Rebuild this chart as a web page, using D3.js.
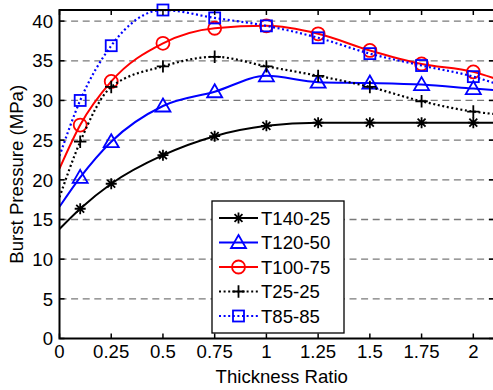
<!DOCTYPE html>
<html>
<head>
<meta charset="utf-8">
<script src="https://cdn.jsdelivr.net/npm/d3@7"></script>
<style>
  html, body { margin: 0; padding: 0; background: #fff; }
  svg { display: block; font-family: "Liberation Sans", Arial, sans-serif; }
</style>
</head>
<body>
<svg id="chart" width="493" height="390"></svg>
<script>
// Thickness ratio sample points (curve runs from 0 to 2.1, markers at the measured ratios)
const ratios = [0, 0.1, 0.25, 0.5, 0.75, 1, 1.25, 1.5, 1.75, 2, 2.1];
const markedRatios = [0.1, 0.25, 0.5, 0.75, 1, 1.25, 1.5, 1.75, 2];

// Burst pressure (MPa) for each configuration
const t140_25 = [13.8, 16.35, 19.5, 23.1, 25.5, 26.8, 27.2, 27.2, 27.2, 27.2, 27.2];
const t120_50 = [16.6, 20.3, 24.8, 29.3, 31.1, 33.1, 32.3, 32.2, 32.0, 31.5, 31.3];
const t100_75 = [21.4, 26.9, 32.4, 37.2, 39.1, 39.4, 38.4, 36.3, 34.6, 33.6, 32.8];
const t25_25  = [17.8, 24.8, 31.7, 34.3, 35.5, 34.3, 33.1, 31.7, 29.9, 28.6, 28.3];
const t85_85  = [23.0, 30.0, 36.9, 41.4, 40.4, 39.4, 37.9, 35.9, 34.4, 33.0, 32.2];

const seriesNames = ["T140-25", "T120-50", "T100-75", "T25-25", "T85-85"];
const seriesValues = [t140_25, t120_50, t100_75, t25_25, t85_85];

const xTicks = [0, 0.25, 0.5, 0.75, 1, 1.25, 1.5, 1.75, 2];
const xTickLabels = ["0", "0.25", "0.5", "0.75", "1", "1.25", "1.5", "1.75", "2"];
const yTicks = [0, 5, 10, 15, 20, 25, 30, 35, 40];

const styles = [
  { color: "#000000", dash: null,      marker: "asterisk" },
  { color: "#0000ff", dash: null,      marker: "triangle" },
  { color: "#ff0000", dash: null,      marker: "circle" },
  { color: "#000000", dash: "2,2.6",   marker: "plus" },
  { color: "#0000ff", dash: "2,2.6",   marker: "square" }
];

const svg = d3.select("#chart");
const plotL = 59.5, plotR = 494, plotT = 10, plotB = 338.5;
const fontSize = 18.6;

const x = d3.scaleLinear().domain([0, 2.1]).range([plotL, plotR]);
const y = d3.scaleLinear().domain([0, 41.4]).range([plotB, plotT]);

// dashed horizontal grid
svg.append("g")
  .selectAll("line")
  .data(yTicks.filter(v => v > 0))
  .join("line")
  .attr("x1", plotL).attr("x2", plotR)
  .attr("y1", d => y(d)).attr("y2", d => y(d))
  .attr("stroke", "#7a7a7a")
  .attr("stroke-width", 1.3)
  .attr("stroke-dasharray", "7,4.6");

// clip for the curves
svg.append("clipPath").attr("id", "plotClip")
  .append("rect").attr("x", plotL).attr("y", plotT - 8).attr("width", plotR - plotL).attr("height", plotB - plotT + 8);

const line = d3.line()
  .x((d, i) => x(ratios[i]))
  .y(d => y(d))
  .curve(d3.curveMonotoneX);

function drawMarker(g, type, color) {
  if (type === "asterisk") {
    const r = 5.5;
    g.append("path")
      .attr("d", `M0,${-r}V${r}M${-r},0H${r}M${-r*0.72},${-r*0.72}L${r*0.72},${r*0.72}M${-r*0.72},${r*0.72}L${r*0.72},${-r*0.72}`)
      .attr("stroke", color).attr("stroke-width", 1.8).attr("fill", "none");
  } else if (type === "triangle") {
    g.append("path")
      .attr("d", "M0,-7.5L7.5,5.5L-7.5,5.5Z")
      .attr("stroke", color).attr("stroke-width", 1.8).attr("fill", "none");
  } else if (type === "circle") {
    g.append("circle").attr("r", 6.5)
      .attr("stroke", color).attr("stroke-width", 1.8).attr("fill", "none");
  } else if (type === "plus") {
    const r = 6.2;
    g.append("path")
      .attr("d", `M0,${-r}V${r}M${-r},0H${r}`)
      .attr("stroke", color).attr("stroke-width", 1.8).attr("fill", "none");
  } else if (type === "square") {
    g.append("rect").attr("x", -5.5).attr("y", -5.5).attr("width", 11).attr("height", 11)
      .attr("stroke", color).attr("stroke-width", 1.8).attr("fill", "none");
  }
}

const plot = svg.append("g");
seriesValues.forEach((vals, si) => {
  const st = styles[si];
  plot.append("path")
    .attr("d", line(vals))
    .attr("fill", "none")
    .attr("stroke", st.color)
    .attr("stroke-width", st.dash ? 2.2 : 2)
    .attr("stroke-dasharray", st.dash)
    .attr("clip-path", "url(#plotClip)");
  ratios.forEach((r, i) => {
    if (!markedRatios.includes(r)) return;
    const g = plot.append("g").attr("transform", `translate(${x(r)},${y(vals[i])})`);
    drawMarker(g, st.marker, st.color);
  });
});

// axes box with inward ticks
const axes = svg.append("g");
axes.append("path")
  .attr("d", `M${plotL},${plotT}H${plotR}V${plotB}H${plotL}Z`)
  .attr("fill", "none").attr("stroke", "#000").attr("stroke-width", 2);
const tickLen = 5;
xTicks.forEach(t => {
  axes.append("line").attr("x1", x(t)).attr("x2", x(t)).attr("y1", plotB).attr("y2", plotB - tickLen)
    .attr("stroke", "#000").attr("stroke-width", 1.5);
  axes.append("line").attr("x1", x(t)).attr("x2", x(t)).attr("y1", plotT).attr("y2", plotT + tickLen)
    .attr("stroke", "#000").attr("stroke-width", 1.5);
});
yTicks.forEach(t => {
  axes.append("line").attr("x1", plotL).attr("x2", plotL + tickLen).attr("y1", y(t)).attr("y2", y(t))
    .attr("stroke", "#000").attr("stroke-width", 1.5);
  axes.append("line").attr("x1", plotR).attr("x2", plotR - tickLen).attr("y1", y(t)).attr("y2", y(t))
    .attr("stroke", "#000").attr("stroke-width", 1.5);
});

// tick labels
svg.append("g").selectAll("text").data(xTicks).join("text")
  .attr("x", d => x(d)).attr("y", 358)
  .attr("text-anchor", "middle").attr("font-size", fontSize).attr("fill", "#000")
  .text((d, i) => xTickLabels[i]);
svg.append("g").selectAll("text").data(yTicks).join("text")
  .attr("x", 53).attr("y", d => y(d))
  .attr("dy", "0.36em")
  .attr("text-anchor", "end").attr("font-size", fontSize).attr("fill", "#000")
  .text(d => d);

// axis titles
svg.append("text")
  .attr("x", (plotL + plotR) / 2 + 5).attr("y", 383)
  .attr("text-anchor", "middle").attr("font-size", fontSize)
  .text("Thickness Ratio");
svg.append("text")
  .attr("transform", `translate(23,${(plotT + plotB) / 2}) rotate(-90)`)
  .attr("text-anchor", "middle").attr("font-size", fontSize)
  .text("Burst Pressure (MPa)");

// legend
const lg = svg.append("g");
const lgX = 212, lgY = 201, lgW = 132, lgH = 132;
lg.append("rect").attr("x", lgX).attr("y", lgY).attr("width", lgW).attr("height", lgH)
  .attr("fill", "#fff").attr("stroke", "#000").attr("stroke-width", 1.3);
seriesNames.forEach((name, i) => {
  const st = styles[i];
  const cy = lgY + 17 + i * 24.5;
  lg.append("line").attr("x1", lgX + 7).attr("x2", lgX + 46).attr("y1", cy).attr("y2", cy)
    .attr("stroke", st.color).attr("stroke-width", st.dash ? 2.2 : 2)
    .attr("stroke-dasharray", st.dash);
  const g = lg.append("g").attr("transform", `translate(${lgX + 26.5},${cy})`);
  drawMarker(g, st.marker, st.color);
  lg.append("text").attr("x", lgX + 49).attr("y", cy).attr("dy", "0.36em")
    .attr("font-size", fontSize).text(name);
});
</script>
</body>
</html>
